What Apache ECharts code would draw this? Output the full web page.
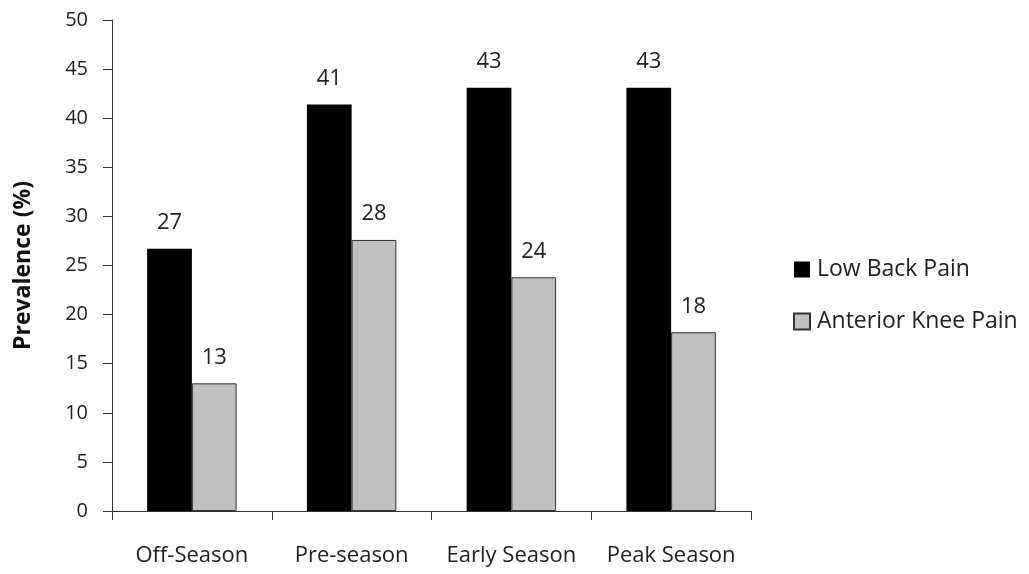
<!DOCTYPE html>
<html>
<head>
<meta charset="utf-8">
<script src="https://cdn.jsdelivr.net/npm/echarts@6/dist/echarts.min.js"></script>
<style>
  html, body { margin: 0; padding: 0; background: #fff; }
  #chart { width: 1029px; height: 574px; }
</style>
</head>
<body>
<div id="chart"></div>
<script>
var categories = ['Off-Season', 'Pre-season', 'Early Season', 'Peak Season'];
var lowBackPain = [26.7, 41.4, 43.1, 43.1];
var kneePain = [13.0, 27.6, 23.8, 18.2];

var font = '"Open Sans", "Liberation Sans", sans-serif';
var myChart = echarts.init(document.getElementById('chart'));

var labelStyle = {
    show: true,
    position: 'top',
    distance: 15,
    fontFamily: font,
    fontSize: 22,
    color: '#222',
    formatter: function (p) { return Math.round(p.value); }
};

var option = {
    animation: false,
    textStyle: { fontFamily: font },
    grid: { left: 112, right: 278, top: 20, bottom: 63, outerBoundsMode: 'none' },
    legend: {
        orient: 'vertical',
        left: 788,
        top: 253,
        itemWidth: 16,
        itemHeight: 16,
        itemGap: 29,
        icon: 'rect',
        textStyle: { fontFamily: font, fontSize: 23, color: '#222', padding: [0, 0, 0, 2] },
        data: ['Low Back Pain', 'Anterior Knee Pain']
    },
    xAxis: {
        type: 'category',
        data: categories,
        axisLine: { lineStyle: { color: '#333', width: 1 } },
        axisTick: { show: true, interval: 0, length: 9, lineStyle: { color: '#333' } },
        axisLabel: { interval: 0, margin: 34, fontFamily: font, fontSize: 22, color: '#222' }
    },
    yAxis: {
        type: 'value',
        min: 0,
        max: 50,
        interval: 5,
        name: 'Prevalence (%)',
        nameLocation: 'middle',
        nameRotate: 90,
        nameGap: 77,
        nameTextStyle: { fontFamily: font, fontSize: 23, fontWeight: 'bold', color: '#111' },
        axisLine: { show: true, lineStyle: { color: '#333', width: 1 } },
        axisTick: { show: true, inside: false, length: 9, lineStyle: { color: '#333' } },
        splitLine: { show: false },
        axisLabel: { margin: 24, fontFamily: font, fontSize: 20, color: '#222' }
    },
    series: [
        {
            name: 'Low Back Pain',
            type: 'bar',
            data: lowBackPain,
            barGap: '0%',
            barCategoryGap: '44%',
            itemStyle: { color: '#000000' },
            label: labelStyle
        },
        {
            name: 'Anterior Knee Pain',
            type: 'bar',
            data: kneePain,
            itemStyle: { color: '#c0c0c0', borderColor: '#333', borderWidth: 1 },
            label: labelStyle
        }
    ]
};
myChart.setOption(option);
</script>
</body>
</html>
